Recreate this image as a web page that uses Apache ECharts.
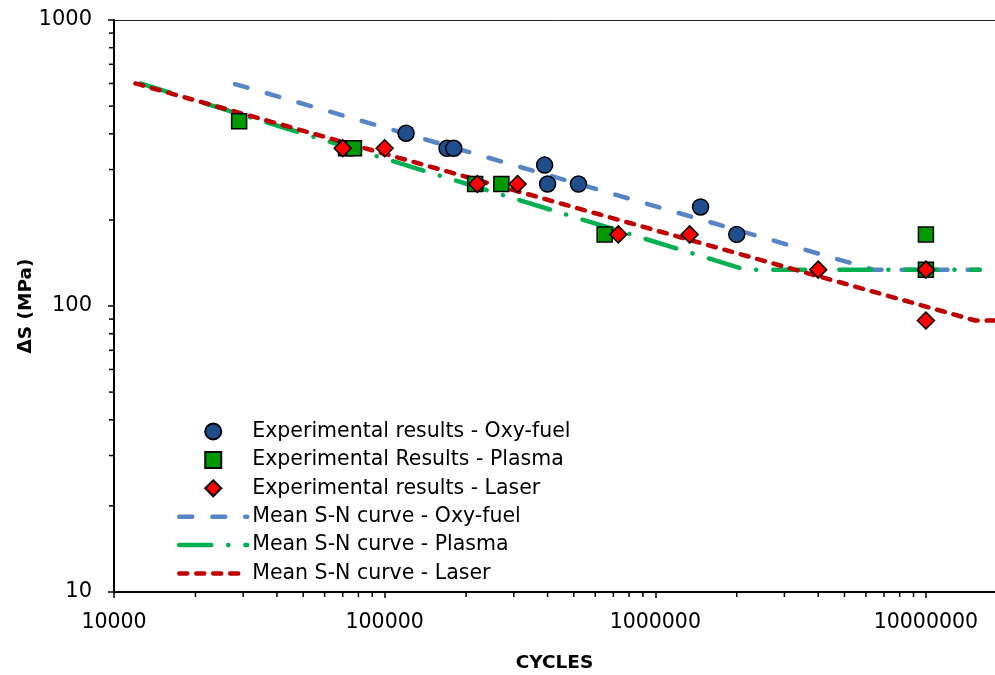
<!DOCTYPE html>
<html>
<head>
<meta charset="utf-8">
<script src="https://cdn.jsdelivr.net/npm/echarts@6/dist/echarts.min.js"></script>
<style>
  html, body { margin: 0; padding: 0; background: #fff; }
  #chart { width: 995px; height: 675px; }
</style>
</head>
<body>
<div id="chart"></div>
<script>
// experimental points [cycles, stress range MPa]
var oxyPoints = [
  [120000, 402], [170000, 356], [180000, 356], [390000, 311],
  [400000, 267], [520000, 267], [1470000, 222], [2000000, 178]
];
var plasmaPoints = [
  [29000, 443], [72000, 356], [77000, 356], [216000, 267],
  [270000, 267], [650000, 178], [10000000, 178], [10000000, 134]
];
var laserPoints = [
  [70000, 356], [100000, 356], [220000, 267], [310000, 267],
  [730000, 178], [1340000, 178], [4000000, 134], [10000000, 134],
  [10000000, 89]
];
// mean S-N curves
var oxyCurve = [[28000, 597], [6400000, 134], [15800000, 134]];
var plasmaCurve = [[12500, 600], [2150000, 134], [15800000, 134]];
var laserCurve = [[12000, 600], [15200000, 89], [18000000, 89]];

// minor tick positions for the log axes
var xMinorTicks = [20000, 30000, 40000, 50000, 60000, 70000, 80000, 90000,
  200000, 300000, 400000, 500000, 600000, 700000, 800000, 900000,
  2000000, 3000000, 4000000, 5000000, 6000000, 7000000, 8000000, 9000000];
var yMinorTicks = [20, 30, 40, 50, 60, 70, 80, 90, 200, 300, 400, 500, 600, 700, 800, 900];

var legendNames = [
  'Experimental results - Oxy-fuel',
  'Experimental Results - Plasma',
  'Experimental results - Laser',
  'Mean S-N curve - Oxy-fuel',
  'Mean S-N curve - Plasma',
  'Mean S-N curve - Laser'
];

var font = 'DejaVu Sans';
var squarePath = 'path://M0,0L1,0L1,1L0,1Z';
var diamondPath = 'path://M1,0L2,1L1,2L0,1Z';
var xMax = 18000000;

var chart = echarts.init(document.getElementById('chart'));

function tickItem(dir) {
  return function (params, api) {
    var p = api.coord([api.value(0), api.value(1)]);
    var shape = dir === 'x'
      ? { x1: p[0], y1: p[1], x2: p[0], y2: p[1] + 5 }
      : { x1: p[0], y1: p[1], x2: p[0] - 5, y2: p[1] };
    return { type: 'line', shape: shape, style: { stroke: '#000', lineWidth: 1.5 } };
  };
}

// legend entries: lines get no marker in the middle
var legendData = legendNames.map(function (n, i) {
  if (i < 3) return { name: n };
  return { name: n, itemStyle: { color: 'rgba(0,0,0,0)', borderWidth: 0, opacity: 0 } };
});

chart.setOption({
  animation: false,
  backgroundColor: '#fff',
  grid: {
    left: 114, top: 20, bottom: 83, right: 0,
    outerBoundsMode: 'none'
  },
  legend: {
    data: legendData,
    orient: 'vertical',
    left: 172,
    top: 416,
    itemWidth: 68,
    itemHeight: 16,
    itemGap: 7.4,
    lineStyle: { width: 4.5 },
    textStyle: { fontFamily: font, fontSize: 20.5, lineHeight: 21, color: '#000' }
  },
  xAxis: [{
    type: 'log',
    logBase: 10,
    min: 10000,
    max: xMax,
    name: 'CYCLES',
    nameLocation: 'middle',
    nameGap: 62,
    nameMoveOverlap: false,
    nameTextStyle: { fontFamily: font, fontSize: 18.5, fontWeight: 'bold', color: '#000' },
    axisLine: { lineStyle: { color: '#000', width: 2 } },
    axisTick: { inside: false, length: 6, lineStyle: { color: '#000', width: 1.5 } },
    axisLabel: {
      fontFamily: font, fontSize: 20.5, color: '#000', margin: 20,
      showMaxLabel: false,
      formatter: function (v) { return String(Math.round(v)); }
    },
    splitLine: { show: false }
  }, {
    // top frame line only
    type: 'log',
    logBase: 10,
    min: 10000,
    max: xMax,
    position: 'top',
    axisLine: { lineStyle: { color: '#222', width: 1 } },
    axisTick: { show: false },
    axisLabel: { show: false },
    splitLine: { show: false }
  }],
  yAxis: {
    type: 'log',
    logBase: 10,
    min: 10,
    max: 1000,
    name: 'ΔS (MPa)',
    nameLocation: 'middle',
    nameGap: 78,
    nameMoveOverlap: false,
    nameRotate: 90,
    nameTextStyle: { fontFamily: font, fontSize: 18.5, fontWeight: 'bold', color: '#000' },
    axisLine: { lineStyle: { color: '#000', width: 2 } },
    axisTick: { inside: false, length: 6, lineStyle: { color: '#000', width: 1.5 } },
    axisLabel: {
      fontFamily: font, fontSize: 21, color: '#000', margin: 22,
      formatter: function (v) { return String(Math.round(v)); }
    },
    splitLine: { show: false }
  },
  series: [
    {
      name: 'Mean S-N curve - Oxy-fuel',
      type: 'line',
      data: oxyCurve,
      showSymbol: false,
      symbol: 'none',
      lineStyle: { color: '#5585C5', width: 4.5, type: [13, 20], cap: 'round' },
      itemStyle: { color: '#5585C5' },
      z: 1
    },
    {
      name: 'Mean S-N curve - Plasma',
      type: 'line',
      data: plasmaCurve,
      showSymbol: false,
      symbol: 'none',
      lineStyle: { color: '#00B050', width: 4.5, type: [32, 17, 0.1, 17], cap: 'round' },
      itemStyle: { color: '#00B050' },
      z: 1
    },
    {
      name: 'Mean S-N curve - Laser',
      type: 'line',
      data: laserCurve,
      showSymbol: false,
      symbol: 'none',
      lineStyle: { color: '#C00000', width: 4.5, type: [8, 9], cap: 'round' },
      itemStyle: { color: '#C00000' },
      z: 1
    },
    {
      name: 'Experimental results - Oxy-fuel',
      type: 'scatter',
      data: oxyPoints,
      symbol: 'circle',
      symbolSize: 16,
      itemStyle: { color: '#1F4E8C', borderColor: '#000', borderWidth: 1.5, opacity: 1 },
      z: 3
    },
    {
      name: 'Experimental Results - Plasma',
      type: 'scatter',
      data: plasmaPoints,
      symbol: squarePath,
      symbolKeepAspect: true,
      symbolSize: 15,
      itemStyle: { color: '#009900', borderColor: '#000', borderWidth: 1.5, opacity: 1 },
      z: 4
    },
    {
      name: 'Experimental results - Laser',
      type: 'scatter',
      data: laserPoints,
      symbol: diamondPath,
      symbolKeepAspect: true,
      symbolSize: 17,
      itemStyle: { color: '#FF0000', borderColor: '#000', borderWidth: 1.5, opacity: 1 },
      z: 5
    },
    {
      type: 'custom',
      silent: true,
      clip: false,
      renderItem: tickItem('x'),
      data: xMinorTicks.map(function (v) { return [v, 10]; }),
      z: 6
    },
    {
      type: 'custom',
      silent: true,
      clip: false,
      renderItem: tickItem('y'),
      data: yMinorTicks.map(function (v) { return [10000, v]; }),
      z: 6
    }
  ]
});
</script>
</body>
</html>
